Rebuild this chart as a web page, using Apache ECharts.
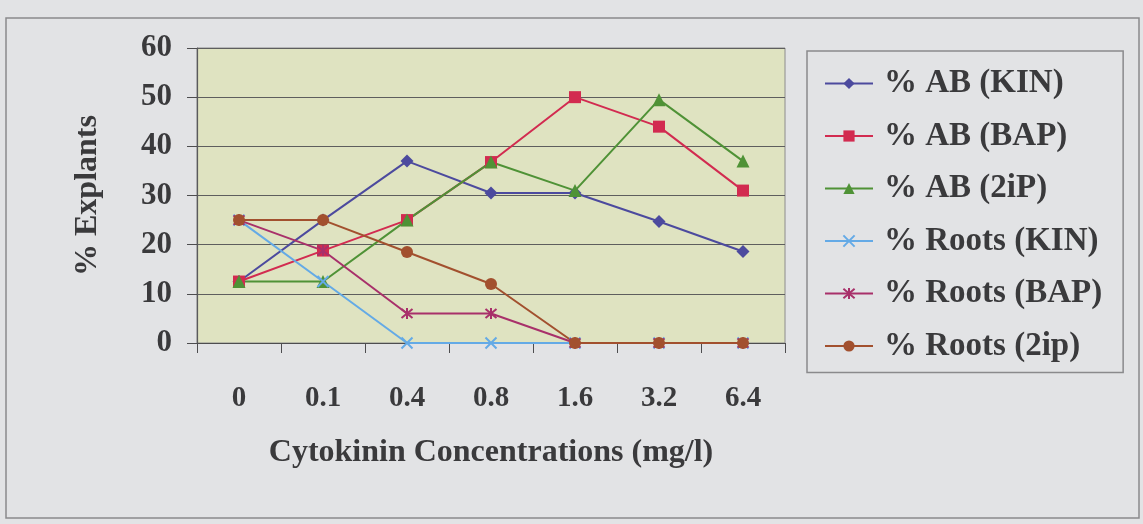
<!DOCTYPE html>
<html>
<head>
<meta charset="utf-8">
<script src="https://cdn.jsdelivr.net/npm/echarts@6/dist/echarts.min.js"></script>
<style>
  html, body { margin: 0; padding: 0; background: #e2e3e5; }
  #chart { width: 1143px; height: 524px; }
</style>
</head>
<body>
<div id="chart"></div>
<script>
// Cytokinin concentrations (mg/l)
const categories = ['0', '0.1', '0.4', '0.8', '1.6', '3.2', '6.4'];

// Percentage of explants forming adventitious buds (AB) and roots
const abKin    = [12.5, 25, 37, 30.5, 30.5, 24.7, 18.6];
const abBap    = [12.5, 18.8, 25, 36.8, 50, 44, 31];
const ab2ip    = [12.5, 12.5, 25, 36.8, 31, 49.5, 37];
const rootsKin = [25, 12.5, 0, 0, 0, 0, 0];
const rootsBap = [25, 18.8, 6, 6, 0, 0, 0];
const roots2ip = [25, 25, 18.5, 12, 0, 0, 0];

const seriesNames = ['% AB (KIN)', '% AB (BAP)', '% AB (2iP)', '% Roots (KIN)', '% Roots (BAP)', '% Roots (2ip)'];
const yTicks = { min: 0, max: 60, interval: 10 };

const serif = "'Liberation Serif', 'Times New Roman', serif";
const textColor = '#3a3a3c';

const crossSymbol = 'path://M0,0L10,10M10,0L0,10';
const asteriskSymbol = 'path://M0,0L10,10M10,0L0,10M5,-1L5,11';

function lineSeries(name, data, color, symbol, size, stroked) {
  return {
    name: name,
    type: 'line',
    data: data,
    symbol: symbol,
    symbolSize: size,
    showAllSymbol: true,
    lineStyle: { color: color, width: 2 },
    itemStyle: stroked
      ? { color: color, borderColor: color, borderWidth: 2 }
      : { color: color },
    emphasis: { disabled: true }
  };
}

const chart = echarts.init(document.getElementById('chart'), null, { renderer: 'canvas' });

chart.setOption({
  animation: false,
  backgroundColor: '#e2e3e5',
  graphic: [{
    type: 'rect',
    z: -1,
    shape: { x: 6, y: 18, width: 1133, height: 500 },
    style: { fill: 'none', stroke: '#8a8a8c', lineWidth: 1.5 }
  }],
  grid: {
    left: 197, top: 48, width: 588, height: 295,
    show: true,
    backgroundColor: '#dfe3c1',
    borderColor: '#8c8c8c',
    borderWidth: 1
  },
  legend: {
    orient: 'vertical',
    left: 807,
    top: 51,
    padding: [16, 21, 10, 17],
    itemGap: 19.5,
    itemWidth: 48,
    itemHeight: 14,
    borderColor: '#8a8a8c',
    borderWidth: 1.5,
    data: seriesNames,
    textStyle: {
      fontFamily: serif,
      fontWeight: 'bold',
      fontSize: 33,
      color: textColor,
      padding: [0, 0, 0, 6]
    }
  },
  xAxis: {
    type: 'category',
    data: categories,
    boundaryGap: true,
    axisLine: { lineStyle: { color: '#4d4d4f', width: 1.2 } },
    axisTick: { show: true, length: 10, lineStyle: { color: '#4d4d4f' } },
    axisLabel: {
      margin: 41,
      fontFamily: serif,
      fontWeight: 'bold',
      fontSize: 29,
      color: textColor
    },
    name: 'Cytokinin Concentrations (mg/l)',
    nameLocation: 'middle',
    nameGap: 94,
    nameTextStyle: {
      fontFamily: serif,
      fontWeight: 'bold',
      fontSize: 32,
      color: textColor
    }
  },
  yAxis: {
    type: 'value',
    min: yTicks.min,
    max: yTicks.max,
    interval: yTicks.interval,
    axisLine: { show: true, lineStyle: { color: '#5a5a5c', width: 1.2 } },
    axisTick: { show: true, length: 10, lineStyle: { color: '#4d4d4f' } },
    splitLine: { show: true, lineStyle: { color: '#5e5e5e', width: 1 } },
    axisLabel: {
      margin: 25,
      fontFamily: serif,
      fontWeight: 'bold',
      fontSize: 31,
      color: textColor
    },
    name: '% Explants',
    nameLocation: 'middle',
    nameRotate: 90,
    nameGap: 93,
    nameTextStyle: {
      fontFamily: serif,
      fontWeight: 'bold',
      fontSize: 32,
      color: textColor
    }
  },
  series: [
    lineSeries(seriesNames[0], abKin, '#4c4a9e', 'diamond', 13, false),
    lineSeries(seriesNames[1], abBap, '#d22b50', 'rect', 12, false),
    lineSeries(seriesNames[2], ab2ip, '#4f9236', 'triangle', 13, false),
    lineSeries(seriesNames[3], rootsKin, '#64aae6', crossSymbol, 11, true),
    lineSeries(seriesNames[4], rootsBap, '#a8306a', asteriskSymbol, 11, true),
    lineSeries(seriesNames[5], roots2ip, '#a2502e', 'circle', 12, false)
  ]
});
</script>
</body>
</html>
